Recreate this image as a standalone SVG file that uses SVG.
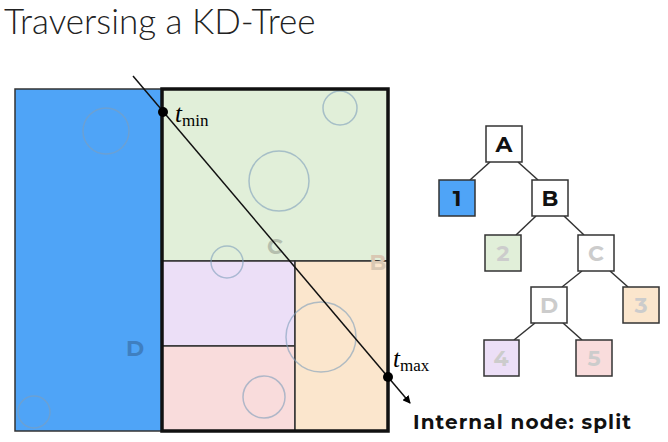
<svg xmlns="http://www.w3.org/2000/svg" width="668" height="442" viewBox="0 0 668 442">
<defs>
<marker id="ah" markerWidth="8" markerHeight="8" refX="7" refY="4" orient="auto" markerUnits="userSpaceOnUse"><path d="M0,0 L8,4 L0,8 z" fill="#000"/></marker>
<style>
.c{fill:none;stroke:#7f9fbb;stroke-width:1.5;opacity:0.6}
.r{stroke:#333;stroke-width:1.5}
.n{stroke:#333;stroke-width:1.5}
.t{font-family:"Montserrat","Noto Sans",sans-serif;font-weight:700;font-size:22px;text-anchor:middle}
.e{stroke:#333;stroke-width:1.5}
.m{font-family:"Liberation Serif",serif}
</style>
</defs>
<rect width="668" height="442" fill="#fff"/>
<text x="4" y="34" font-family="Lato,sans-serif" font-weight="300" font-size="35" fill="#222">Traversing a KD-Tree</text>
<g id="space">
<rect x="15" y="89" width="147" height="342" fill="#4fa4f7" class="r"/>
<rect x="162" y="89" width="226" height="172" fill="#e1efd9" class="r"/>
<rect x="162" y="261" width="133" height="85" fill="#ecdff7" class="r"/>
<rect x="162" y="346" width="133" height="85" fill="#f9dcdc" class="r"/>
<rect x="295" y="261" width="93" height="170" fill="#fbe6cd" class="r"/>
<circle class="c" cx="106" cy="131" r="23" stroke="#3f88cf" opacity="1"/>
<circle class="c" cx="34" cy="412" r="16" stroke="#3f88cf" opacity="1"/>
<circle class="c" cx="340" cy="108" r="17"/>
<circle class="c" cx="279" cy="181" r="30"/>
<circle class="c" cx="227" cy="262" r="16"/>
<circle class="c" cx="321" cy="337" r="35"/>
<circle class="c" cx="264" cy="397" r="21"/>
<rect x="162" y="89" width="226" height="342" fill="none" stroke="#111" stroke-width="3.5"/>
<text x="275" y="254" class="t" font-size="18" fill="#b5bfae">C</text>
<text x="378" y="270" class="t" font-size="18" fill="#d9c8b3">B</text>
<text x="135" y="356" class="t" font-size="19" fill="#3f7fc0">D</text>
</g>
<g id="ray">
<line x1="133" y1="76" x2="410" y2="403" stroke="#111" stroke-width="1.5" marker-end="url(#ah)"/>
<circle cx="163" cy="112" r="5" fill="#000"/>
<circle cx="388" cy="377" r="5" fill="#000"/>
<text x="175" y="122" class="m" font-size="25" font-style="italic">t<tspan font-style="normal" font-size="17" dy="4">min</tspan></text>
<text x="393" y="367" class="m" font-size="25" font-style="italic">t<tspan font-style="normal" font-size="17" dy="4">max</tspan></text>
<text x="413" y="429" font-family="Montserrat,'Noto Sans',sans-serif" font-weight="700" font-size="20" fill="#111" textLength="218" lengthAdjust="spacing">Internal node: split</text>
</g>
<g id="edges">
<line class="e" x1="490" y1="162" x2="470" y2="180"/>
<line class="e" x1="518" y1="162" x2="538" y2="180"/>
<line class="e" x1="536" y1="216" x2="516" y2="235"/>
<line class="e" x1="564" y1="216" x2="584" y2="235"/>
<line class="e" x1="582" y1="271" x2="562" y2="287"/>
<line class="e" x1="610" y1="271" x2="628" y2="287"/>
<line class="e" x1="535" y1="323" x2="514" y2="340"/>
<line class="e" x1="563" y1="323" x2="582" y2="340"/>
</g>
<g id="nA"><rect class="n" x="486" y="126" width="36" height="36" fill="#fff"/><text class="t" x="504" y="152" fill="#111">A</text></g>
<g id="n1"><rect class="n" x="439" y="180" width="36" height="36" fill="#4fa4f7"/><text class="t" x="457" y="206" fill="#111">1</text></g>
<g id="nB"><rect class="n" x="532" y="180" width="36" height="36" fill="#fff"/><text class="t" x="550" y="206" fill="#111">B</text></g>
<g id="n2"><rect class="n" x="485" y="235" width="36" height="36" fill="#e1efd9"/><text class="t" x="503" y="261" fill="#ccc">2</text></g>
<g id="nC"><rect class="n" x="578" y="235" width="36" height="36" fill="#fff"/><text class="t" x="596" y="261" fill="#ccc">C</text></g>
<g id="nD"><rect class="n" x="531" y="287" width="36" height="36" fill="#fff"/><text class="t" x="549" y="313" fill="#ccc">D</text></g>
<g id="n3"><rect class="n" x="623" y="287" width="36" height="36" fill="#fbe6cd"/><text class="t" x="641" y="313" fill="#ccc">3</text></g>
<g id="n4"><rect class="n" x="484" y="340" width="35" height="36" fill="#ecdff7"/><text class="t" x="501" y="366" fill="#ccc">4</text></g>
<g id="n5"><rect class="n" x="576" y="340" width="36" height="36" fill="#f9dcdc"/><text class="t" x="594" y="366" fill="#ccc">5</text></g>
</svg>
